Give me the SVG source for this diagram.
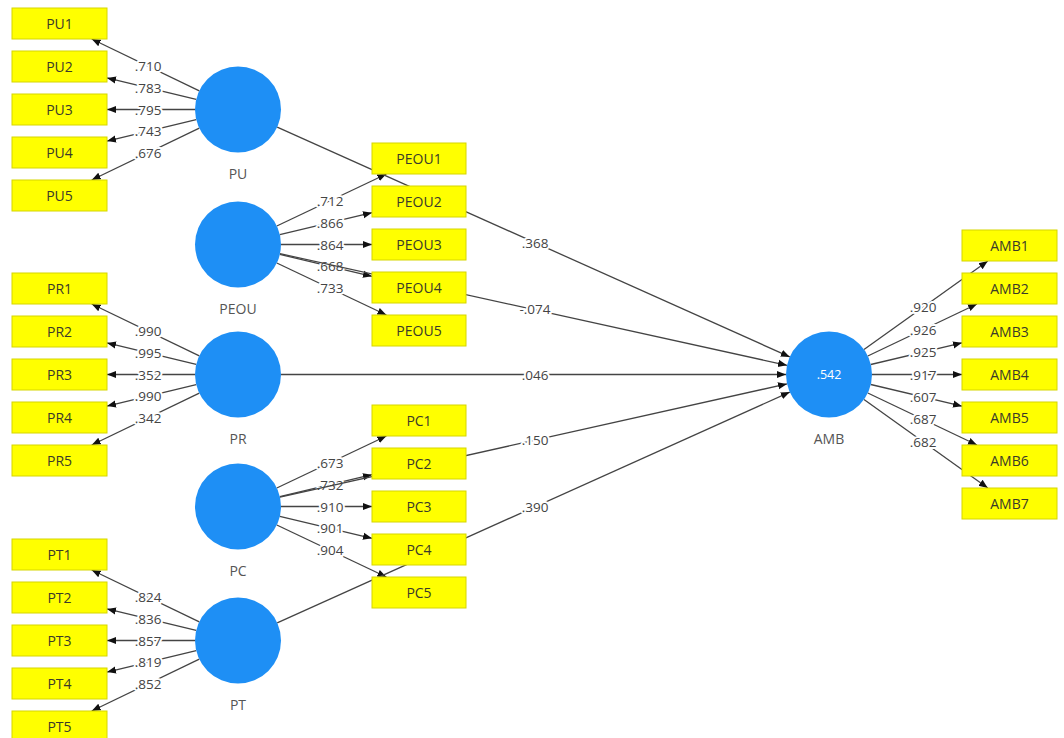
<svg xmlns="http://www.w3.org/2000/svg" width="1064" height="738" viewBox="0 0 1064 738">
<style>
.bg{fill:#ffffff}
.box{fill:#ffff00;stroke:#d6d600;stroke-width:1}
.bt{font-family:"Open Sans","Noto Sans",sans-serif;font-size:14px;fill:#3a3a2a;text-anchor:middle;dominant-baseline:central}
.lv{fill:#1e8ff5}
.lt{font-family:"Open Sans","Noto Sans",sans-serif;font-size:14px;fill:#555555;text-anchor:middle;dominant-baseline:central}
.r2{font-family:"Open Sans","Noto Sans",sans-serif;font-size:12.5px;fill:#ffffff;text-anchor:middle;dominant-baseline:central}
.ln{stroke:#444444;stroke-width:1.3;fill:none;marker-end:url(#ah)}
.pl{font-family:"Open Sans","Noto Sans",sans-serif;font-size:13.5px;fill:#444444;text-anchor:middle;dominant-baseline:central;stroke:#ffffff;stroke-width:4;paint-order:stroke;stroke-linejoin:round}
</style>
<defs>
<marker id="ah" markerUnits="userSpaceOnUse" markerWidth="9" markerHeight="9" viewBox="0 0 10 10" refX="10" refY="5" orient="auto">
<path d="M0,1 L10,5 L0,9 z" fill="#111111"/>
</marker>
</defs>
<rect class="bg" x="0" y="0" width="1064" height="738"/>
<g id="connectors">
<line class="ln" x1="199.3" y1="90.8" x2="91.7" y2="39"/>
<line class="ln" x1="196.2" y1="99.4" x2="107" y2="77.9"/>
<line class="ln" x1="195" y1="109.5" x2="107" y2="109.5"/>
<line class="ln" x1="196.2" y1="119.6" x2="107" y2="141.1"/>
<line class="ln" x1="199.3" y1="128.2" x2="91.7" y2="180"/>
<line class="ln" x1="199.3" y1="355.8" x2="91.7" y2="304"/>
<line class="ln" x1="196.2" y1="364.4" x2="107" y2="342.9"/>
<line class="ln" x1="195" y1="374.5" x2="107" y2="374.5"/>
<line class="ln" x1="196.2" y1="384.6" x2="107" y2="406.1"/>
<line class="ln" x1="199.3" y1="393.2" x2="91.7" y2="445"/>
<line class="ln" x1="199.3" y1="621.8" x2="91.7" y2="570"/>
<line class="ln" x1="196.2" y1="630.4" x2="107" y2="608.9"/>
<line class="ln" x1="195" y1="640.5" x2="107" y2="640.5"/>
<line class="ln" x1="196.2" y1="650.6" x2="107" y2="672.1"/>
<line class="ln" x1="199.3" y1="659.2" x2="91.7" y2="711"/>
<line class="ln" x1="276.8" y1="226" x2="386.4" y2="174"/>
<line class="ln" x1="279.8" y1="234.6" x2="372" y2="212.7"/>
<line class="ln" x1="281" y1="244.5" x2="372" y2="244.5"/>
<line class="ln" x1="279.8" y1="254.4" x2="372" y2="276.3"/>
<line class="ln" x1="276.8" y1="263" x2="386.4" y2="315"/>
<line class="ln" x1="276.8" y1="488" x2="386.4" y2="436"/>
<line class="ln" x1="279.8" y1="496.6" x2="372" y2="474.7"/>
<line class="ln" x1="281" y1="506.5" x2="372" y2="506.5"/>
<line class="ln" x1="279.8" y1="516.4" x2="372" y2="538.3"/>
<line class="ln" x1="276.8" y1="525" x2="386.4" y2="577"/>
<line class="ln" x1="864" y1="349.5" x2="987.8" y2="261"/>
<line class="ln" x1="867.8" y1="356" x2="977" y2="304"/>
<line class="ln" x1="870.8" y1="364.5" x2="962" y2="342.8"/>
<line class="ln" x1="872" y1="374.5" x2="962" y2="374.5"/>
<line class="ln" x1="870.8" y1="384.5" x2="962" y2="406.2"/>
<line class="ln" x1="867.8" y1="393" x2="977" y2="445"/>
<line class="ln" x1="864" y1="399.5" x2="987.8" y2="488"/>
<text class="pl" x="148" y="66.1">.710</text>
<text class="pl" x="148" y="87.8">.783</text>
<text class="pl" x="148" y="109.5">.795</text>
<text class="pl" x="148" y="131.2">.743</text>
<text class="pl" x="148" y="152.9">.676</text>
<text class="pl" x="148" y="331.1">.990</text>
<text class="pl" x="148" y="352.8">.995</text>
<text class="pl" x="148" y="374.5">.352</text>
<text class="pl" x="148" y="396.2">.990</text>
<text class="pl" x="148" y="417.9">.342</text>
<text class="pl" x="148" y="597.1">.824</text>
<text class="pl" x="148" y="618.8">.836</text>
<text class="pl" x="148" y="640.5">.857</text>
<text class="pl" x="148" y="662.2">.819</text>
<text class="pl" x="148" y="683.9">.852</text>
<text class="pl" x="330" y="200.8">.712</text>
<text class="pl" x="330" y="222.7">.866</text>
<text class="pl" x="330" y="244.5">.864</text>
<text class="pl" x="330" y="266.3">.668</text>
<text class="pl" x="330" y="288.2">.733</text>
<text class="pl" x="330" y="462.8">.673</text>
<text class="pl" x="330" y="484.7">.732</text>
<text class="pl" x="330" y="506.5">.910</text>
<text class="pl" x="330" y="528.3">.901</text>
<text class="pl" x="330" y="550.2">.904</text>
<text class="pl" x="923" y="307.3">.920</text>
<text class="pl" x="923" y="329.7">.926</text>
<text class="pl" x="923" y="352.1">.925</text>
<text class="pl" x="923" y="374.5">.917</text>
<text class="pl" x="923" y="396.9">.607</text>
<text class="pl" x="923" y="419.3">.687</text>
<text class="pl" x="923" y="441.7">.682</text>
<line class="ln" x1="277.2" y1="127.1" x2="789.8" y2="356.9"/>
<line class="ln" x1="280" y1="253.7" x2="787" y2="365.3"/>
<line class="ln" x1="281" y1="374.5" x2="786" y2="374.5"/>
<line class="ln" x1="280" y1="497.1" x2="787" y2="383.9"/>
<line class="ln" x1="277.2" y1="622.9" x2="789.8" y2="392.1"/>
<text class="pl" x="535" y="242.7">.368</text>
<text class="pl" x="535" y="309.3">-.074</text>
<text class="pl" x="535" y="374.5">.046</text>
<text class="pl" x="535" y="440.2">.150</text>
<text class="pl" x="535" y="506.8">.390</text>
</g>
<g id="PU"><circle class="lv" cx="238" cy="109.5" r="43"/><text class="lt" x="238" y="173.5">PU</text></g>
<g id="PEOU"><circle class="lv" cx="238" cy="244.5" r="43"/><text class="lt" x="238" y="308.5">PEOU</text></g>
<g id="PR"><circle class="lv" cx="238" cy="374.5" r="43"/><text class="lt" x="238" y="438.5">PR</text></g>
<g id="PC"><circle class="lv" cx="238" cy="506.5" r="43"/><text class="lt" x="238" y="570.5">PC</text></g>
<g id="PT"><circle class="lv" cx="238" cy="640.5" r="43"/><text class="lt" x="238" y="704.5">PT</text></g>
<g id="AMB"><circle class="lv" cx="829" cy="374.5" r="43"/><text class="r2" x="829" y="374.5">.542</text><text class="lt" x="829" y="438.5">AMB</text></g>
<g id="PU1"><rect class="box" x="12" y="8" width="95" height="31"/><text class="bt" x="59.5" y="23.5">PU1</text></g>
<g id="PU2"><rect class="box" x="12" y="51" width="95" height="31"/><text class="bt" x="59.5" y="66.5">PU2</text></g>
<g id="PU3"><rect class="box" x="12" y="94" width="95" height="31"/><text class="bt" x="59.5" y="109.5">PU3</text></g>
<g id="PU4"><rect class="box" x="12" y="137" width="95" height="31"/><text class="bt" x="59.5" y="152.5">PU4</text></g>
<g id="PU5"><rect class="box" x="12" y="180" width="95" height="31"/><text class="bt" x="59.5" y="195.5">PU5</text></g>
<g id="PR1"><rect class="box" x="12" y="273" width="95" height="31"/><text class="bt" x="59.5" y="288.5">PR1</text></g>
<g id="PR2"><rect class="box" x="12" y="316" width="95" height="31"/><text class="bt" x="59.5" y="331.5">PR2</text></g>
<g id="PR3"><rect class="box" x="12" y="359" width="95" height="31"/><text class="bt" x="59.5" y="374.5">PR3</text></g>
<g id="PR4"><rect class="box" x="12" y="402" width="95" height="31"/><text class="bt" x="59.5" y="417.5">PR4</text></g>
<g id="PR5"><rect class="box" x="12" y="445" width="95" height="31"/><text class="bt" x="59.5" y="460.5">PR5</text></g>
<g id="PT1"><rect class="box" x="12" y="539" width="95" height="31"/><text class="bt" x="59.5" y="554.5">PT1</text></g>
<g id="PT2"><rect class="box" x="12" y="582" width="95" height="31"/><text class="bt" x="59.5" y="597.5">PT2</text></g>
<g id="PT3"><rect class="box" x="12" y="625" width="95" height="31"/><text class="bt" x="59.5" y="640.5">PT3</text></g>
<g id="PT4"><rect class="box" x="12" y="668" width="95" height="31"/><text class="bt" x="59.5" y="683.5">PT4</text></g>
<g id="PT5"><rect class="box" x="12" y="711" width="95" height="31"/><text class="bt" x="59.5" y="726.5">PT5</text></g>
<g id="PEOU1"><rect class="box" x="372" y="143" width="94" height="31"/><text class="bt" x="419" y="158.5">PEOU1</text></g>
<g id="PEOU2"><rect class="box" x="372" y="186" width="94" height="31"/><text class="bt" x="419" y="201.5">PEOU2</text></g>
<g id="PEOU3"><rect class="box" x="372" y="229" width="94" height="31"/><text class="bt" x="419" y="244.5">PEOU3</text></g>
<g id="PEOU4"><rect class="box" x="372" y="272" width="94" height="31"/><text class="bt" x="419" y="287.5">PEOU4</text></g>
<g id="PEOU5"><rect class="box" x="372" y="315" width="94" height="31"/><text class="bt" x="419" y="330.5">PEOU5</text></g>
<g id="PC1"><rect class="box" x="372" y="405" width="94" height="31"/><text class="bt" x="419" y="420.5">PC1</text></g>
<g id="PC2"><rect class="box" x="372" y="448" width="94" height="31"/><text class="bt" x="419" y="463.5">PC2</text></g>
<g id="PC3"><rect class="box" x="372" y="491" width="94" height="31"/><text class="bt" x="419" y="506.5">PC3</text></g>
<g id="PC4"><rect class="box" x="372" y="534" width="94" height="31"/><text class="bt" x="419" y="549.5">PC4</text></g>
<g id="PC5"><rect class="box" x="372" y="577" width="94" height="31"/><text class="bt" x="419" y="592.5">PC5</text></g>
<g id="AMB1"><rect class="box" x="962" y="230" width="95" height="31"/><text class="bt" x="1009.5" y="245.5">AMB1</text></g>
<g id="AMB2"><rect class="box" x="962" y="273" width="95" height="31"/><text class="bt" x="1009.5" y="288.5">AMB2</text></g>
<g id="AMB3"><rect class="box" x="962" y="316" width="95" height="31"/><text class="bt" x="1009.5" y="331.5">AMB3</text></g>
<g id="AMB4"><rect class="box" x="962" y="359" width="95" height="31"/><text class="bt" x="1009.5" y="374.5">AMB4</text></g>
<g id="AMB5"><rect class="box" x="962" y="402" width="95" height="31"/><text class="bt" x="1009.5" y="417.5">AMB5</text></g>
<g id="AMB6"><rect class="box" x="962" y="445" width="95" height="31"/><text class="bt" x="1009.5" y="460.5">AMB6</text></g>
<g id="AMB7"><rect class="box" x="962" y="488" width="95" height="31"/><text class="bt" x="1009.5" y="503.5">AMB7</text></g>
</svg>
